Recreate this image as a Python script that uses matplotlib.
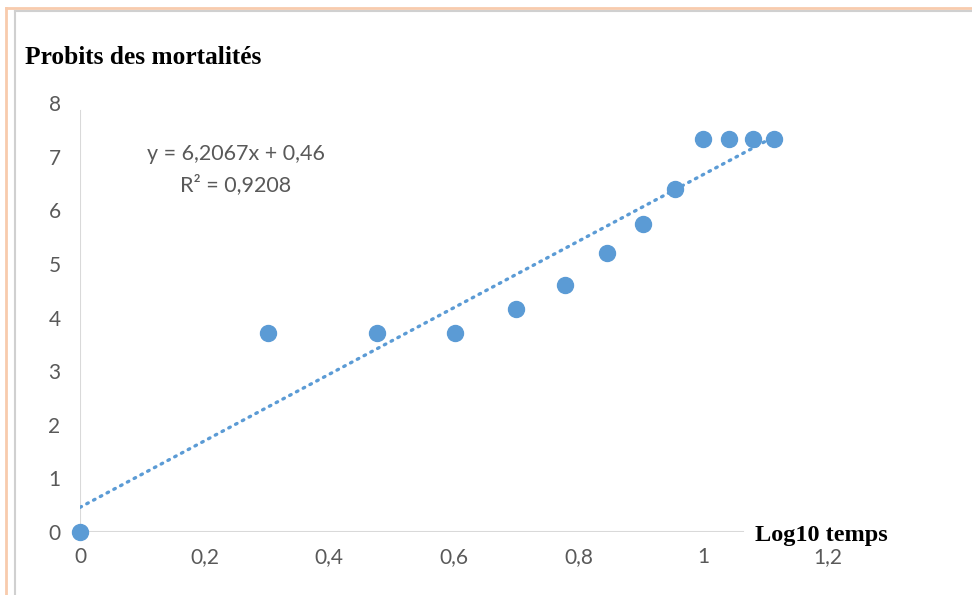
import numpy as np
import matplotlib.pyplot as plt
from matplotlib.lines import Line2D

# ── data ─────────────────────────────────────────────────────────────────────
log_temps = [0, 0.301, 0.477, 0.602, 0.699, 0.778, 0.845, 0.903, 0.954,
             1.0, 1.041, 1.079, 1.114]
probits   = [0, 3.72, 3.72, 3.72, 4.16, 4.61, 5.20, 5.74, 6.39,
             7.33, 7.33, 7.33, 7.33]
trend     = [6.2067, 0.46]          # slope, intercept
r2        = 0.9208
x_ticks   = [0, 0.2, 0.4, 0.6, 0.8, 1.0, 1.2]
x_labels  = ["0", "0,2", "0,4", "0,6", "0,8", "1", "1,2"]
y_ticks   = list(range(9))

BLUE  = "#5B9BD5"
GREY  = "#595959"
AXIS  = "#D9D9D9"
SANS  = ["Lato", "DejaVu Sans"]
SERIF = ["Liberation Serif", "DejaVu Serif"]

W, H = 972, 595
fig = plt.figure(figsize=(W / 100, H / 100), dpi=100)
ax = fig.add_axes([80 / W, 63 / H, 748 / W, 429 / H])

# ── trendline + points ───────────────────────────────────────────────────────
tx = np.array([min(log_temps), max(log_temps)])
ax.plot(tx, np.polyval(trend, tx), color=BLUE, lw=2.4, ls=(0, (0.5, 1.8)),
        dash_capstyle="round", zorder=3)
ax.plot(log_temps, probits, "o", color=BLUE, ms=11.5, mec=BLUE, zorder=4,
        clip_on=False)

ax.text(0.25, 7.04, f"y = {trend[0]:.4f}x + {trend[1]:.2f}".replace(".", ","),
        ha="center", va="center", fontsize=15.5, color=GREY, family=SANS)
ax.text(0.25, 6.47, f"R² = {r2:.4f}".replace(".", ","),
        ha="center", va="center", fontsize=15.5, color=GREY, family=SANS)

# ── axes ─────────────────────────────────────────────────────────────────────
ax.set_xlim(0, 1.2)
ax.set_ylim(0, 8)
for s in ax.spines.values():
    s.set_visible(False)
ax.axvline(0, ymax=7.85 / 8, color=AXIS, lw=1.5, zorder=1)
ax.axhline(0, xmin=0, xmax=1.063 / 1.2, color=AXIS, lw=1.5, zorder=1)
ax.set_xticks(x_ticks, x_labels)
ax.set_yticks(y_ticks)
ax.tick_params(length=0, labelsize=15, labelcolor=GREY)
ax.tick_params(axis="x", pad=11)
ax.tick_params(axis="y", pad=14)
for lab in ax.get_xticklabels() + ax.get_yticklabels():
    lab.set_family(SANS)

fig.text(25 / W, 1 - 57 / H, "Probits des mortalités", ha="left", va="center",
         fontsize=18.3, fontweight="bold", family=SERIF, color="black")
fig.text(755 / W, 1 - 535 / H, "Log10 temps", ha="left", va="center",
         fontsize=17.5, fontweight="bold", family=SERIF, color="black")

# ── frame (orange + grey edges, top and left) ────────────────────────────────
fig.add_artist(Line2D([6 / W, 1], [1 - 8 / H] * 2, color="#F8CBAD", lw=2))
fig.add_artist(Line2D([6 / W] * 2, [0, 1 - 8 / H], color="#F8CBAD", lw=2))
fig.add_artist(Line2D([15 / W, 1], [1 - 11 / H] * 2, color="#D0D0D0", lw=1.5))
fig.add_artist(Line2D([15 / W] * 2, [0, 1 - 11 / H], color="#D0D0D0", lw=1.5))

fig.savefig("out.png", dpi=100)
